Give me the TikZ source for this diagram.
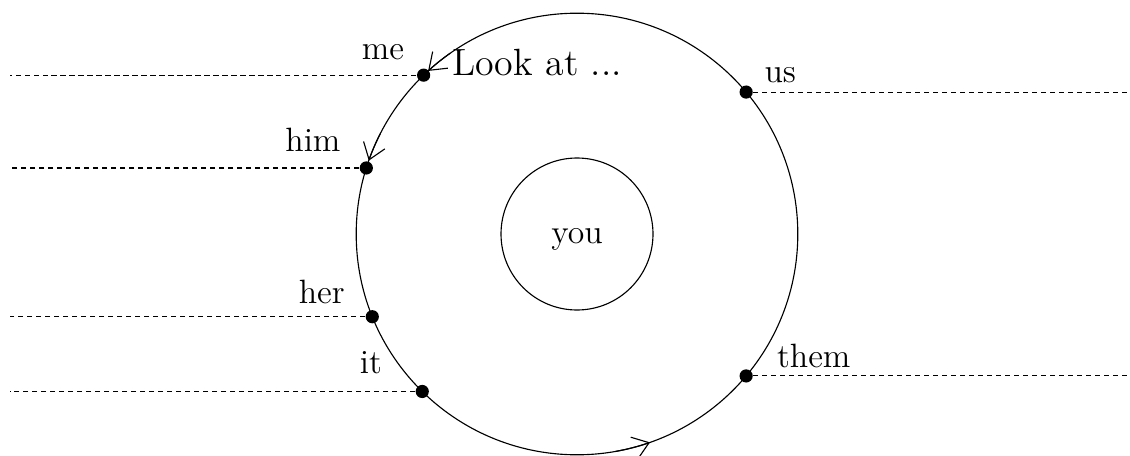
\documentclass[tikz,border=0pt]{standalone}
\usetikzlibrary{arrows.meta}
\begin{document}
\begin{tikzpicture}[every node/.style={font=\large},
  pt/.style={circle,fill=black,inner sep=0pt,minimum size=0.165cm},
  guide/.style={dash pattern=on 1.8pt off 1.4pt},
  flow/.style={-{Straight Barb[length=5.5pt,width=8pt]}}]
\useasboundingbox (-7.2125,-2.7625) rectangle (6.9125,2.925);
\coordinate (wl) at (-7.09,0);
\coordinate (er) at (6.91,0);
% rings
\draw (0,0) circle (2.76);
\draw (0,0) circle (0.95);
\node (you) at (0,-0.07) {you};
\draw[flow] (125:2.76) arc[start angle=125,end angle=132.4,radius=2.76];
\draw[flow] (153:2.76) arc[start angle=153,end angle=160.6,radius=2.76];
\draw[flow] (-80:2.76) arc[start angle=-80,end angle=-70.7,radius=2.76];
% points on the ring
\node[pt] (me) at (134:2.76) {};
\node[pt] (him) at (162.6:2.76) {};
\node[pt] (her) at (202:2.76) {};
\node[pt] (it) at (225.5:2.76) {};
\node[pt] (us) at (40:2.76) {};
\node[pt] (them) at (-40:2.76) {};
\draw[guide] (me) -- (me -| wl);
\draw[guide] (him) -- (him -| wl);
\draw[guide] (her) -- (her -| wl);
\draw[guide] (it) -- (it -| wl);
\draw[guide] (us) -- (us -| er);
\draw[guide] (them) -- (them -| er);
% labels
\node (lme) at (-2.425,2.27) {me};
\node (lhim) at (-3.30,1.18) {him};
\node (lher) at (-3.19,-0.72) {her};
\node (lit) at (-2.575,-1.61) {it};
\node (lus) at (2.54,1.99) {us};
\node (lthem) at (2.96,-1.53) {them};
\node[font=\fontsize{13.5}{16}\selectfont] (look) at (-0.5,2.14) {Look at ...};
\end{tikzpicture}
\end{document}
